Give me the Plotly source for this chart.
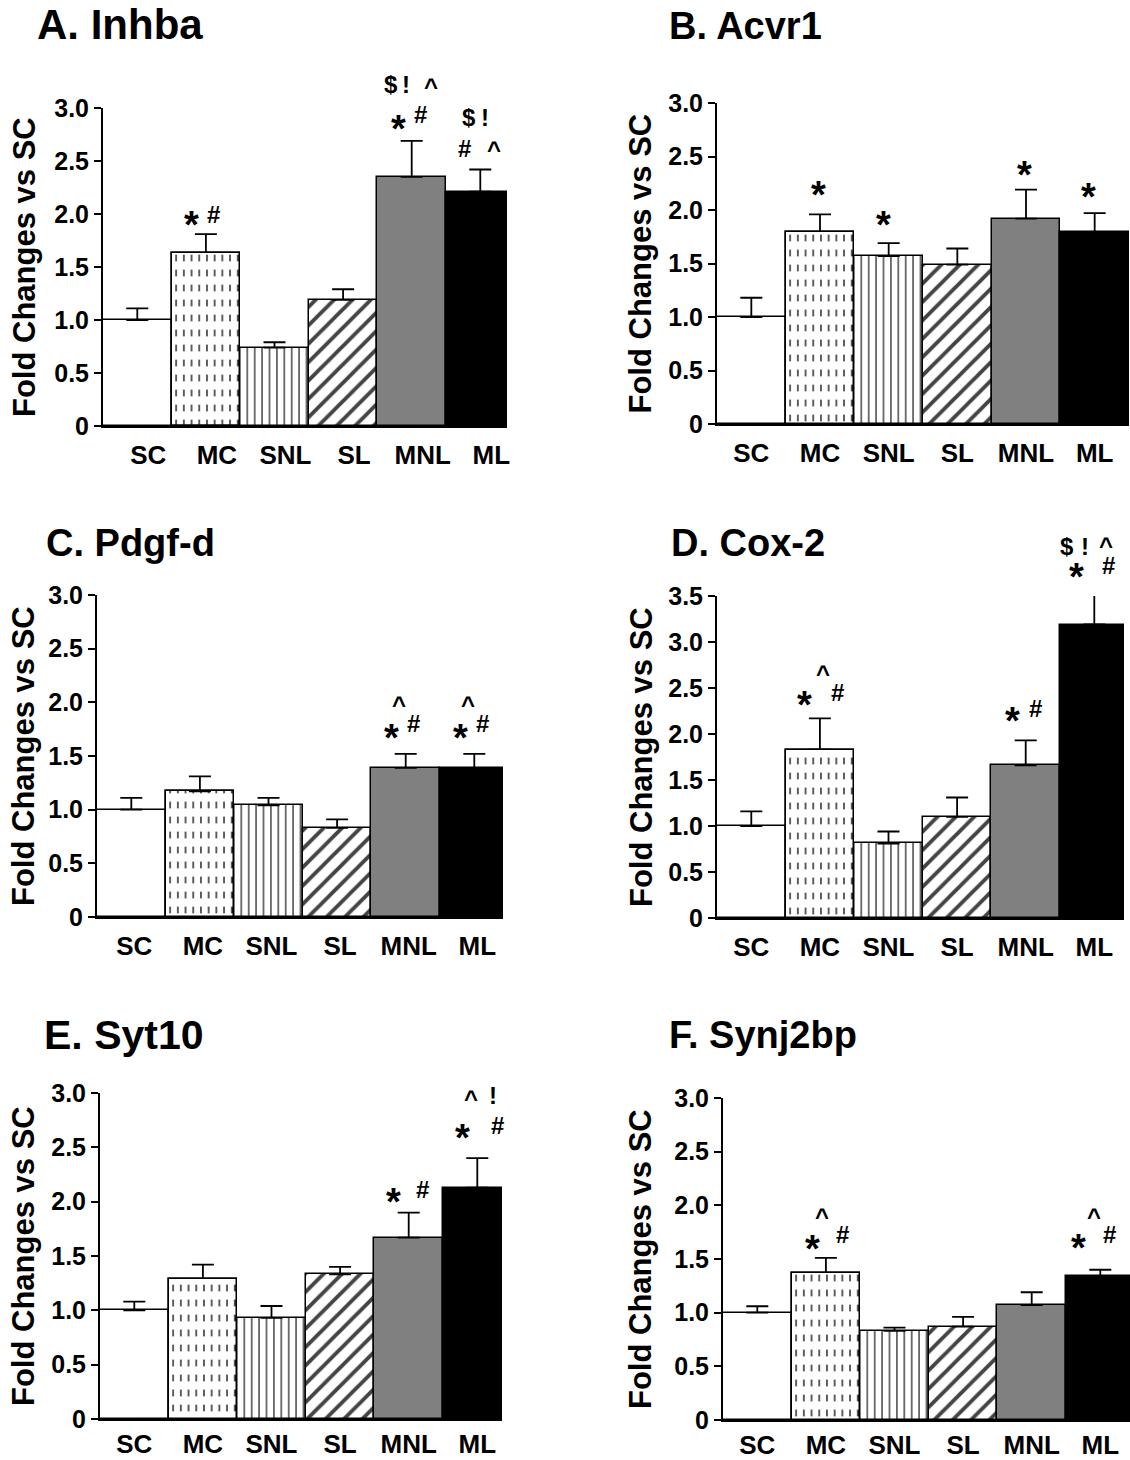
import plotly.graph_objects as go

W, H = 1130, 1460
FONT = "Liberation Sans, Arial, Helvetica, sans-serif"

# ---------------- data ----------------
categories = ["SC", "MC", "SNL", "SL", "MNL", "ML"]

inhba_mean = [1.00, 1.63, 0.74, 1.19, 2.35, 2.21]
inhba_sem = [0.11, 0.18, 0.05, 0.10, 0.34, 0.21]

acvr1_mean = [1.00, 1.79, 1.57, 1.49, 1.92, 1.79]
acvr1_sem = [0.18, 0.17, 0.12, 0.15, 0.27, 0.18]

pdgfd_mean = [1.00, 1.17, 1.04, 0.83, 1.39, 1.39]
pdgfd_sem = [0.11, 0.14, 0.07, 0.08, 0.13, 0.13]

cox2_mean = [1.00, 1.83, 0.81, 1.10, 1.66, 3.19]
cox2_sem = [0.16, 0.34, 0.13, 0.21, 0.27, 0.36]

syt10_mean = [1.00, 1.29, 0.93, 1.33, 1.67, 2.13]
syt10_sem = [0.08, 0.13, 0.11, 0.07, 0.23, 0.27]

synj2bp_mean = [1.00, 1.37, 0.83, 0.87, 1.07, 1.34]
synj2bp_sem = [0.06, 0.14, 0.03, 0.09, 0.12, 0.06]

ticks_30 = [0, 0.5, 1.0, 1.5, 2.0, 2.5, 3.0]
ticklabels_30 = ["0", "0.5", "1.0", "1.5", "2.0", "2.5", "3.0"]
ticks_35 = [0, 0.5, 1.0, 1.5, 2.0, 2.5, 3.0, 3.5]
ticklabels_35 = ["0", "0.5", "1.0", "1.5", "2.0", "2.5", "3.0", "3.5"]

titles = ["A. Inhba", "B. Acvr1", "C. Pdgf-d", "D. Cox-2", "E. Syt10", "F. Synj2bp"]
y_title = "Fold Changes vs SC"

# significance symbols per panel: (category, symbol)
sig_A = [("MC", "*"), ("MC", "#"), ("MNL", "$"), ("MNL", "!"), ("MNL", "^"),
         ("MNL", "*"), ("MNL", "#"), ("ML", "$"), ("ML", "!"), ("ML", "#"), ("ML", "^")]
sig_B = [("MC", "*"), ("SNL", "*"), ("MNL", "*"), ("ML", "*")]
sig_C = [("MNL", "^"), ("MNL", "*"), ("MNL", "#"), ("ML", "^"), ("ML", "*"), ("ML", "#")]
sig_D = [("MC", "*"), ("MC", "^"), ("MC", "#"), ("MNL", "*"), ("MNL", "#"),
         ("ML", "$"), ("ML", "!"), ("ML", "^"), ("ML", "*"), ("ML", "#")]
sig_E = [("MNL", "*"), ("MNL", "#"), ("ML", "^"), ("ML", "!"), ("ML", "*"), ("ML", "#")]
sig_F = [("MC", "^"), ("MC", "*"), ("MC", "#"), ("ML", "^"), ("ML", "*"), ("ML", "#")]

# ---------------- layout / style (pixels) ----------------
# symbol offsets (dx, dy above error-bar top), same order as sig lists
sig_off_A = [(-14, 18), (8, 20), (-21, 56), (-6, 56), (19, 59), (-13, 21), (9, 26),
             (-11, 52), (5, 52), (-16, 21), (14, 24)]
sig_off_B = [(-2, 28), (-5, 27), (-2, 23), (-6, 25)]
sig_off_C = [(-7, 54), (-14, 25), (8, 30), (-6, 54), (-14, 25), (8, 30)]
sig_off_D = [(-15, 22), (3, 49), (18, 26), (-13, 28), (10, 32),
             (-27, 45), (-9, 45), (12, 50), (-18, 23), (14, 26)]
sig_off_E = [(-15, 19), (14, 23), (-6, 64), (16, 63), (-15, 29), (20, 33)]
sig_off_F = [(-4, 46), (-13, 18), (17, 23), (-6, 58), (-22, 30), (9, 35)]

panels = [
    dict(mean=inhba_mean, sem=inhba_sem, ticks=ticks_30, tl=ticklabels_30, ymax=3.0,
         x0=103, x1=507, ytop=108, ybot=426, tx=35, ty=25, tfs=42, lx=24, shift=11,
         stand=5, mcfg="black", sig=sig_A, off=sig_off_A),
    dict(mean=acvr1_mean, sem=acvr1_sem, ticks=ticks_30, tl=ticklabels_30, ymax=3.0,
         x0=717, x1=1129, ytop=103, ybot=424, tx=667, ty=26, tfs=38, lx=640, shift=0,
         stand=5, mcfg="black", sig=sig_B, off=sig_off_B),
    dict(mean=pdgfd_mean, sem=pdgfd_sem, ticks=ticks_30, tl=ticklabels_30, ymax=3.0,
         x0=97, x1=503, ytop=595, ybot=917, tx=44, ty=543, tfs=38, lx=23, shift=3,
         stand=5, mcfg="black", sig=sig_C, off=sig_off_C),
    dict(mean=cox2_mean, sem=cox2_sem, ticks=ticks_35, tl=ticklabels_35, ymax=3.5,
         x0=717, x1=1124, ytop=596, ybot=918, tx=669, ty=543, tfs=38, lx=641, shift=0,
         stand=5, mcfg="black", sig=sig_D, off=sig_off_D),
    dict(mean=syt10_mean, sem=syt10_sem, ticks=ticks_30, tl=ticklabels_30, ymax=3.0,
         x0=100, x1=502, ytop=1093, ybot=1419, tx=42, ty=1035, tfs=41, lx=23, shift=0,
         stand=1, mcfg="black", sig=sig_E, off=sig_off_E),
    dict(mean=synj2bp_mean, sem=synj2bp_sem, ticks=ticks_30, tl=ticklabels_30, ymax=3.0,
         x0=723, x1=1130, ytop=1098, ybot=1420, tx=667, ty=1035, tfs=38, lx=640, shift=0,
         stand=1, mcfg="#8a8a8a", sig=sig_F, off=sig_off_F),
]

BAR_W_PX = 68.6
pat_shape = ["", "|", "|", "/", "", ""]
pat_size = [8, 7.7, 7.4, 13, 8, 8]
pat_solid = [0.3, 0.22, 0.2, 0.3, 0.3, 0.3]
bar_bg = ["white", "white", "white", "white", "#808080", "black"]

SYM_FONT = {"*": 38}
SYM_DEFAULT = 24
GLYPH_RAISE = {"*": 0.23, "^": 0.18}

fig = go.Figure()
annotations = []

for i, p in enumerate(panels):
    n = i + 1
    xa = "x" if n == 1 else f"x{n}"
    ya = "y" if n == 1 else f"y{n}"
    xkey = "xaxis" if n == 1 else f"xaxis{n}"
    ykey = "yaxis" if n == 1 else f"yaxis{n}"

    fg = ["black", p["mcfg"], "black", "black", "black", "black"]
    fig.add_trace(go.Bar(
        x=categories, y=p["mean"], xaxis=xa, yaxis=ya, showlegend=False,
        cliponaxis=False,
        marker=dict(color=bar_bg, line=dict(color="black", width=1.5),
                    pattern=dict(shape=pat_shape, size=pat_size, solidity=pat_solid,
                                 fgcolor=fg, bgcolor=bar_bg, fgopacity=1)),
        error_y=dict(type="data", symmetric=False, array=p["sem"],
                     arrayminus=[0] * len(categories), color="black",
                     thickness=1.8, width=11),
    ))
    # white horizontal breaks that turn the MC vertical lines into dashes
    fig.add_trace(go.Bar(
        x=[categories[1]], y=[p["mean"][1]], xaxis=xa, yaxis=ya, showlegend=False,
        marker=dict(color="rgba(0,0,0,0)", line=dict(color="black", width=1.5),
                    pattern=dict(shape="-", size=15, solidity=0.55, fgcolor="white",
                                 bgcolor="rgba(0,0,0,0)", fgopacity=1)),
    ))

    nbars = (p["x1"] - p["x0"]) / BAR_W_PX
    fig.layout[xkey] = dict(
        domain=[p["x0"] / W, p["x1"] / W], anchor=ya, type="category",
        range=[-0.5, min(5.5, -0.5 + nbars)], automargin=False,
        showline=True, linecolor="black", linewidth=2, ticks="", showgrid=False,
        zeroline=False, tickfont=dict(family=FONT, size=26, color="black", weight="bold"),
        ticklabelstandoff=p["stand"], ticklabelshift=p["shift"],
    )
    fig.layout[ykey] = dict(
        domain=[1 - p["ybot"] / H, 1 - p["ytop"] / H], anchor=xa,
        range=[0, p["ymax"]], tickvals=p["ticks"], ticktext=p["tl"], automargin=False,
        showline=True, linecolor="black", linewidth=2, ticks="outside", ticklen=7,
        tickwidth=2, tickcolor="black", showgrid=False, zeroline=False,
        tickfont=dict(family=FONT, size=25, color="black", weight="bold"),
    )

    # panel title
    annotations.append(dict(
        text=titles[i], xref="paper", yref="paper", x=p["tx"] / W, y=1 - p["ty"] / H,
        xanchor="left", yanchor="middle", showarrow=False,
        font=dict(family=FONT, size=p["tfs"], color="black", weight="bold"),
    ))
    # y-axis title
    annotations.append(dict(
        text=y_title, xref="paper", yref="paper", x=p["lx"] / W,
        y=1 - (p["ytop"] + p["ybot"]) / 2 / H, xanchor="center", yanchor="middle",
        textangle=-90, showarrow=False,
        font=dict(family=FONT, size=31, color="black", weight="bold"),
    ))
    # significance symbols (y in axis-domain units so symbols above the range still show)
    for (cat, sym), (dx, dy) in zip(p["sig"], p["off"]):
        k = categories.index(cat)
        fs = SYM_FONT.get(sym, SYM_DEFAULT)
        annotations.append(dict(
            text=sym, xref=xa, yref=f"{ya} domain", x=cat,
            y=(p["mean"][k] + p["sem"][k]) / p["ymax"],
            xanchor="center", yanchor="middle", showarrow=False,
            xshift=dx, yshift=dy - GLYPH_RAISE.get(sym, 0) * fs,
            font=dict(family=FONT, size=fs, color="black", weight="bold"),
        ))

fig.update_layout(
    width=W, height=H, margin=dict(l=0, r=0, t=0, b=0, pad=0, autoexpand=False),
    paper_bgcolor="white", plot_bgcolor="white",
    barmode="overlay", bargap=0, annotations=annotations,
    font=dict(family=FONT, color="black"),
)

fig.write_html(
    "out.html",
    config={"displayModeBar": False},
    post_script=(
        "document.documentElement.style.margin='0px';"
        "document.body.style.margin='0px';document.body.style.padding='0px';"
        "document.body.style.overflow='hidden';"
        "var gd=document.getElementById('{plot_id}');"
        "gd.style.position='absolute';gd.style.left='0px';gd.style.top='0px';"
    ),
)
